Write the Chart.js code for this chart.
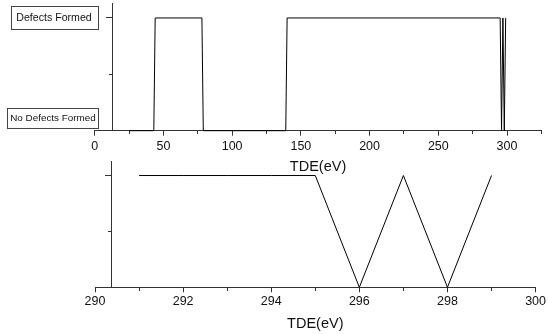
<!DOCTYPE html>
<html><head><meta charset="utf-8">
<script src="https://cdn.jsdelivr.net/npm/chart.js@4.4.1/dist/chart.umd.min.js"></script>
<style>
html,body{margin:0;padding:0;background:#fff;width:548px;height:334px;overflow:hidden;}
#c1{position:absolute;left:0;top:0;}
#c2{position:absolute;left:0;top:150px;}
</style></head><body>
<canvas id="c1" width="548" height="180"></canvas>
<canvas id="c2" width="548" height="184"></canvas>
<script>
// ---- data ----
const topTDE   = [25, 43, 44, 78, 79, 139, 140, 295, 296, 297, 298, 299];
const topState = [0, 0, 1, 1, 0, 0, 1, 1, 0, 1, 0, 1];
const zoomTDE   = [291, 292, 293, 294, 295, 296, 297, 298, 299];
const zoomState = [1, 1, 1, 1, 1, 0, 1, 0, 1];
const stateLabels = ['No Defects Formed', 'Defects Formed'];
const axisTitle = 'TDE(eV)';

const AX = '#333';
const FONT = "'Liberation Sans', Arial, sans-serif";

function pts(xs, ys){ return xs.map((x,i)=>({x:x, y:ys[i]})); }

function build(canvasId, xs, ys, cfg, extraPlugins){
  return new Chart(document.getElementById(canvasId), {
    type: 'line',
    data: { datasets: [{ data: pts(xs, ys), borderColor: '#000', borderWidth: 1,
      pointRadius: 0, tension: 0, fill: false, clip: false }] },
    options: {
      responsive: false, animation: false, devicePixelRatio: 1,
      layout: { padding: cfg.pad },
      plugins: { legend: {display:false}, tooltip: {enabled:false} },
      scales: {
        x: {
          type: 'linear', position: 'bottom', min: cfg.xmin, max: cfg.xmax,
          afterFit: s => { s.height = cfg.axisH; },
          ticks: { stepSize: cfg.xstep, autoSkip: false, maxRotation: 0, padding: cfg.tickPad,
            color: '#111', font: { family: FONT, size: 12.5 },
            callback: v => (Math.round((v - cfg.xmin) / cfg.xstep) % cfg.labelEvery === 0) ? String(v) : '' },
          grid: { drawOnChartArea: false, drawTicks: true, tickLength: 5, tickColor: AX, tickWidth: 1,
            tickBorderDash: c => (Math.round((c.tick.value - cfg.xmin) / cfg.xstep) % cfg.labelEvery === 0) ? [] : [3, 50] },
          border: { color: AX, width: 1 },
          title: { display: true, text: axisTitle, color: '#111', padding: 0,
            font: { family: FONT, size: 14.5 } }
        },
        y: {
          type: 'linear', min: 0, max: 1.13, position: { x: cfg.yAt },
          afterFit: s => { s.width = 0; },
          ticks: { stepSize: 0.5, display: false },
          grid: { drawOnChartArea: false, drawTicks: true, tickLength: 6, tickWidth: 1,
            tickColor: c => ([0, 0.5, 1].includes(c.tick.value) ? AX : 'rgba(0,0,0,0)'),
            tickBorderDash: c => (c.tick.value === 0.5 ? [3, 50] : []) },
          border: { color: AX, width: 1 }
        }
      }
    },
    plugins: extraPlugins || []
  });
}

const labelBoxes = {
  id: 'labelBoxes',
  afterDraw(chart){
    const ctx = chart.ctx;
    const boxes = [
      { text: stateLabels[1], x1: 10.7, x2: 97.3, y1: 5.7, y2: 29, size: 10.6, ty: 18.5 },
      { text: stateLabels[0], x1: 7.3, x2: 98.7, y1: 107.7, y2: 127.3, size: 9.9, ty: 118.5 }
    ];
    ctx.save();
    boxes.forEach(b => {
      ctx.fillStyle = '#fff';
      ctx.fillRect(b.x1, b.y1, b.x2 - b.x1, b.y2 - b.y1);
      ctx.strokeStyle = '#444'; ctx.lineWidth = 1;
      ctx.strokeRect(Math.round(b.x1) + 0.5, Math.round(b.y1) + 0.5,
        Math.round(b.x2 - b.x1), Math.round(b.y2 - b.y1));
      ctx.fillStyle = '#111';
      ctx.font = b.size + "px " + FONT;
      ctx.textAlign = 'center'; ctx.textBaseline = 'middle';
      ctx.fillText(b.text, (b.x1 + b.x2) / 2, b.ty);
    });
    ctx.restore();
  }
};

// top chart: chart area left 94.7, right 541.4, top 3.3, bottom 130.7
build('c1', topTDE, topState, {
  xmin: 0, xmax: 325, xstep: 25, labelEvery: 2, yAt: 13,
  pad: { left: 94.7, right: 6.6, top: 3.3, bottom: 4.3 }, tickPad: 3, axisH: 45
}, [labelBoxes]);

// bottom chart: chart area left 95, right 541.7, top 161, bottom 287.3 (canvas offset 150)
build('c2', zoomTDE, zoomState, {
  xmin: 290, xmax: 300, xstep: 1, labelEvery: 2, yAt: 290.38,
  pad: { left: 95, right: 6.3, top: 11, bottom: 1.1 }, tickPad: 2, axisH: 45.6
});
</script>
</body></html>
